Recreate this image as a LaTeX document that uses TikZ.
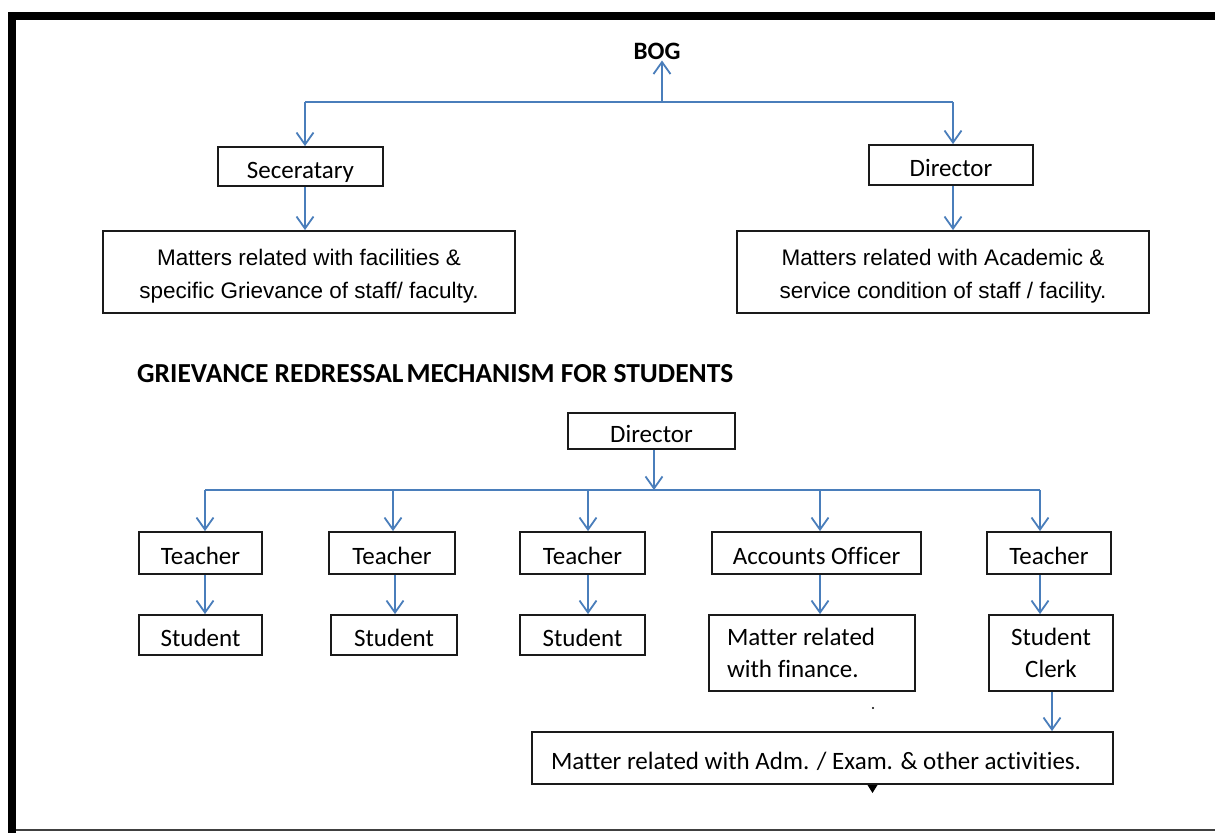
\documentclass[tikz,border=0pt]{standalone}
\usepackage{fontspec}
\setmainfont[Ligatures=NoCommon]{Carlito}
\newfontfamily\arialf{Liberation Sans}
\usetikzlibrary{arrows.meta}
\definecolor{lineblue}{HTML}{4A7EBB}
\definecolor{boxline}{HTML}{1A1A1A}
\begin{document}
\begin{tikzpicture}[x=1pt,y=-1pt,
  box/.style={draw=boxline,line width=1.8pt,inner sep=0pt,align=center,font=\fontsize{25}{32}\selectfont},
  sbox/.style={box,text height=23pt,text depth=0pt},
  abox/.style={box,font=\arialf\fontsize{22.5}{33}\selectfont},
  lbox/.style={box,align=flush left,inner xsep=18pt},
  arr/.style={draw=lineblue,line width=1.8pt,-{Straight Barb[length=12pt,width=17pt,line width=1.8pt]}},
  ln/.style={draw=lineblue,line width=1.8pt}]
\useasboundingbox (0,0) rectangle (1215,833);
% frame
\fill[black] (8,12) rectangle (1215,20);
\fill[black] (8,12) rectangle (16,833);
\draw[black!75,line width=2pt] (16,830) -- (1215,830);
% top part
\node[inner sep=1pt,font=\bfseries\fontsize{25}{30}\selectfont] (bog) at (657,51) {BOG};
\node[sbox,minimum width=165pt,minimum height=39pt] (sec) at (300.5,166.5) {Seceratary};
\node[sbox,minimum width=164pt,minimum height=40pt] (dir1) at (951,165) {Director};
\node[abox,minimum width=412pt,minimum height=82pt] (m1) at (309,272) {\rule{0pt}{25pt}Matters related with facilities \&\\specific Grievance of staff/ faculty.};
\node[abox,minimum width=412pt,minimum height=82pt] (m2) at (943,272) {\rule{0pt}{25pt}Matters related with Academic \&\\service condition of staff / facility.};
\coordinate (jb) at (662,102);
\coordinate (bL) at (305,102);
\coordinate (bR) at (953,102);
\draw[ln] (bL) -- (bR);
\draw[arr] (jb) -- (jb |- bog.south);
\draw[arr] (bL) -- (bL |- sec.north);
\draw[arr] (bR) -- (bR |- dir1.north);
\draw[arr] (bL |- sec.south) -- (bL |- m1.north);
\draw[arr] (bR |- dir1.south) -- (bR |- m2.north);
% title
\node[anchor=base west,inner sep=0pt,font=\bfseries\fontsize{27.5}{32}\selectfont] (title) at (137,382) {GRIEVANCE REDRESSAL\hspace{3pt}MECHANISM FOR STUDENTS};
% lower part
\node[sbox,minimum width=167pt,minimum height=36pt] (dir2) at (651.5,431) {Director};
\node[sbox,minimum width=123pt,minimum height=42pt] (t1) at (200.5,553) {Teacher};
\node[sbox,minimum width=126pt,minimum height=42pt] (t2) at (392,553) {Teacher};
\node[sbox,minimum width=125pt,minimum height=42pt] (t3) at (582.5,553) {Teacher};
\node[sbox,minimum width=209pt,minimum height=42pt] (ao) at (816.5,553) {Accounts Officer};
\node[sbox,minimum width=124pt,minimum height=42pt] (t5) at (1049,553) {Teacher};
\node[sbox,minimum width=123pt,minimum height=40pt] (s1) at (200.5,635) {Student};
\node[sbox,minimum width=126pt,minimum height=40pt] (s2) at (394,635) {Student};
\node[sbox,minimum width=125pt,minimum height=40pt] (s3) at (582.5,635) {Student};
\node[lbox,text width=170pt,minimum height=76pt] (fin) at (812,653) {Matter related\\with finance.};
\node[box,minimum width=124pt,minimum height=76pt] (sc) at (1051,653) {Student\\Clerk};
\node[sbox,minimum width=581pt,minimum height=52pt] (big) at (822.5,758) {\makebox[543pt][l]{Matter related with Adm. / Exam. \& other activities.}};
\coordinate (d) at (654,490);
\coordinate (c1) at (205,490);
\coordinate (c2) at (393,490);
\coordinate (c3) at (588,490);
\coordinate (c4) at (820,490);
\coordinate (c5) at (1040,490);
\draw[ln] (c1) -- (c5);
\draw[arr] (d |- dir2.south) -- (d);
\draw[arr] (c1) -- (c1 |- t1.north);
\draw[arr] (c2) -- (c2 |- t2.north);
\draw[arr] (c3) -- (c3 |- t3.north);
\draw[arr] (c4) -- (c4 |- ao.north);
\draw[arr] (c5) -- (c5 |- t5.north);
\draw[arr] (c1 |- t1.south) -- (c1 |- s1.north);
\draw[arr] ([xshift=2pt]c2 |- t2.south) -- ([xshift=2pt]c2 |- s2.north);
\draw[arr] (c3 |- t3.south) -- (c3 |- s3.north);
\draw[arr] (c4 |- ao.south) -- (c4 |- fin.north);
\draw[arr] (c5 |- t5.south) -- (c5 |- sc.north);
\coordinate (e) at (1052,700);
\draw[arr] (e |- sc.south) -- (e |- big.north);
% stray marks
\fill[black] (873,708) circle (1.2pt);
\fill[black] (867.5,785) -- (877.5,785) -- (872.5,793) -- cycle;
\end{tikzpicture}
\end{document}
